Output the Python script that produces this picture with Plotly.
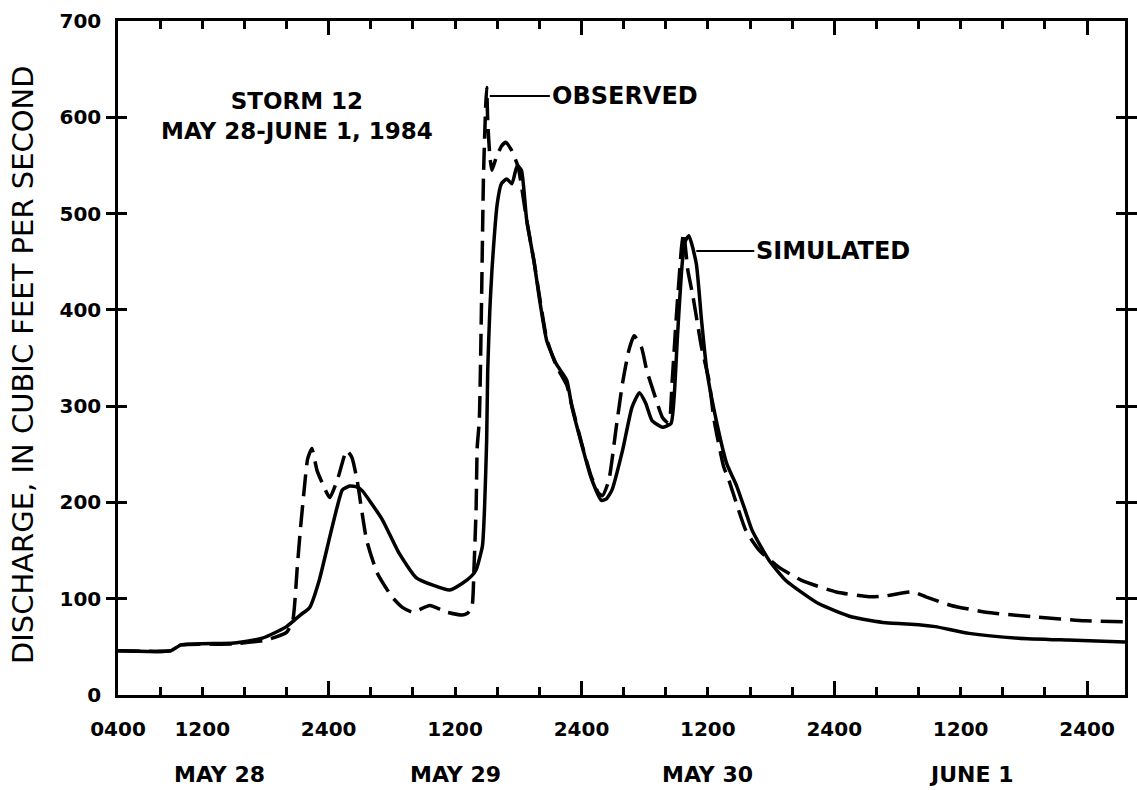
import plotly.graph_objects as go

# hours since 0400 May 28
obs_t = [0, 5, 6, 11, 14, 16, 16.6, 17.0, 17.3, 17.7, 18.0, 18.4, 18.9, 19.4, 20.1, 20.9, 21.7, 22.2,
         22.7, 23.6, 24.6, 26.0, 27.0, 28.0, 29.6, 31.2, 32.7, 33.2, 33.6, 33.8, 34.0, 34.1, 34.3,
         34.5, 34.7, 34.9, 35.0, 35.1, 35.3, 35.5, 35.9, 36.4, 36.8, 37.3, 37.6, 38.0, 38.8, 39.5,
         40.0, 40.7, 41.6, 42.6, 43.1, 44.1, 44.9, 45.6, 46.0, 46.6, 47.3, 47.9, 48.5, 49.0, 49.7,
         50.2, 50.9, 51.7, 52.3, 52.6, 53.0, 53.5, 53.7, 54.1, 54.6, 55.4, 56.1, 56.6, 57.5, 58.0,
         59.6, 60.9, 62.7, 64.9, 68.2, 71.3, 72.9, 75.4, 76.7, 79.1, 82.4, 87.1, 91.8, 95.6]
obs_q = [46, 46, 52, 53, 57, 65, 78, 130, 170, 216, 245, 256, 233, 220, 205, 226, 254, 247,
         223, 161, 127, 102, 91, 86, 93, 86, 83, 85, 91, 133, 195, 257, 285,
         400, 540, 610, 631, 596, 560, 545, 558, 570, 574, 567, 560, 548, 493, 450,
         415, 370, 342, 322, 300, 258, 228, 210, 207, 223, 278, 324, 358, 373, 361,
         337, 313, 288, 282, 324, 392, 465, 480, 441, 413, 361, 327, 285, 237, 223,
         171, 150, 133, 119, 107, 102, 103, 107, 102, 93, 86, 81, 77, 76]

sim_t = [0, 5, 6, 11, 13.7, 16.0, 17.3, 18.2, 19.1, 20.1, 20.8, 21.3, 22.0, 22.7, 23.2, 24.0, 25.1,
         26.7, 28.3, 29.9, 31.5, 32.7, 33.6, 34.0, 34.6, 34.8, 35.0, 35.1, 35.3, 35.5, 36.0, 36.4,
         36.9, 37.4, 37.9, 38.3, 38.8, 39.5, 40.0, 40.7, 41.6, 42.6, 43.1, 44.1, 44.9, 45.9, 46.4,
         46.9, 47.9, 48.8, 49.5, 50.1, 50.7, 51.7, 52.5, 52.8, 53.1, 53.5, 53.8, 54.2, 54.9, 55.4,
         55.9, 56.8, 57.8, 58.7, 59.6, 60.2, 61.8, 63.4, 66.5, 69.7, 72.9, 76.0, 77.6, 80.8, 85.5,
         90.2, 95.6]
sim_q = [46, 46, 52, 54, 59, 71, 83, 91, 119, 164, 195, 213, 217, 216, 212, 200, 182,
         147, 122, 114, 109, 116, 124, 130, 155, 195, 265, 337, 400, 441, 510, 531,
         536, 531, 550, 545, 493, 450, 412, 368, 344, 327, 299, 257, 226, 202, 204,
         213, 254, 299, 314, 303, 285, 278, 282, 310, 370, 440, 470, 477, 448, 389,
         337, 285, 240, 218, 190, 171, 140, 119, 95, 81, 75, 73, 71, 64, 59,
         57, 55]

tick_hours = [0, 8, 20, 32, 44, 56, 68, 80, 92]
tick_text = ["0400", "1200", "2400", "1200", "2400", "1200", "2400", "1200", "2400"]
midnight_hours = [20, 44, 68, 92]
day_hours = [9.6, 32, 56, 81]
day_text = ["MAY 28", "MAY 29", "MAY 30", "JUNE 1"]
y_ticks = [0, 100, 200, 300, 400, 500, 600, 700]

FONT = "DejaVu Sans"
fig = go.Figure()
fig.add_trace(go.Scatter(x=obs_t, y=obs_q, mode="lines", name="Observed",
                         line=dict(color="black", width=3.5, dash="22px,9px", shape="spline", smoothing=0.5),
                         showlegend=False))
fig.add_trace(go.Scatter(x=sim_t, y=sim_q, mode="lines", name="Simulated",
                         line=dict(color="black", width=3.5, shape="spline", smoothing=0.5),
                         showlegend=False))
# helper trace to register overlay axis (midnight ticks)
fig.add_trace(go.Scatter(x=[0], y=[0], xaxis="x2", mode="markers", marker=dict(opacity=0),
                         hoverinfo="skip", showlegend=False))

tfont = dict(family=FONT, size=20, color="black", weight="bold")
fig.update_layout(
    width=1137, height=790,
    margin=dict(l=118, r=9, t=20, b=95),
    paper_bgcolor="white", plot_bgcolor="white",
    xaxis=dict(range=[0, 95.6], showgrid=False, zeroline=False, showline=True, linecolor="black",
               linewidth=2.5, mirror="allticks", ticks="inside", ticklen=8, tickwidth=2.5,
               tickcolor="black", tickvals=tick_hours, ticktext=tick_text, tickfont=tfont,
               ticklabelstandoff=14,
               minor=dict(dtick=4, tick0=0, ticks="inside", ticklen=8, tickwidth=2.5,
                          tickcolor="black", showgrid=False)),
    xaxis2=dict(range=[0, 95.6], overlaying="x", matches="x", anchor="y", side="bottom",
                showgrid=False, zeroline=False, showline=False, mirror="allticks",
                ticks="inside", ticklen=14, tickwidth=2.5, tickcolor="black",
                tickvals=midnight_hours, showticklabels=False),
    yaxis=dict(range=[0, 700], showgrid=False, zeroline=False, showline=True, linecolor="black",
               linewidth=2.5, mirror="allticks", ticks="inside", ticklen=9, tickwidth=2.5,
               tickcolor="black", tickvals=y_ticks, tickfont=tfont, ticklabelstandoff=10),
)

afont = dict(family=FONT, size=23, color="black", weight="bold")
fig.add_annotation(x=17.0, y=601, xref="x", yref="y", text="STORM 12<br>MAY 28-JUNE 1, 1984",
                   showarrow=False, font=afont, align="center")
fig.add_annotation(x=35.3, y=622, xref="x", yref="y", text="OBSERVED",
                   font=dict(family=FONT, size=24, color="black", weight="bold"),
                   showarrow=True, arrowhead=0, arrowwidth=2, arrowcolor="black",
                   ax=60, ay=0, xanchor="left")
fig.add_annotation(x=54.9, y=461, xref="x", yref="y", text="SIMULATED",
                   font=dict(family=FONT, size=24, color="black", weight="bold"),
                   showarrow=True, arrowhead=0, arrowwidth=2, arrowcolor="black",
                   ax=58, ay=0, xanchor="left")
for h, txt in zip(day_hours, day_text):
    fig.add_annotation(x=h, y=-0.118, xref="x", yref="paper", text=txt, showarrow=False,
                       font=dict(family=FONT, size=22, color="black", weight="bold"), yanchor="middle")
fig.add_annotation(x=-0.095, y=0.49, xref="paper", yref="paper", text="DISCHARGE, IN CUBIC FEET PER SECOND",
                   textangle=-90, showarrow=False, font=dict(family=FONT, size=29, color="black"),
                   xanchor="center", yanchor="middle")

fig.write_html("out.html")
